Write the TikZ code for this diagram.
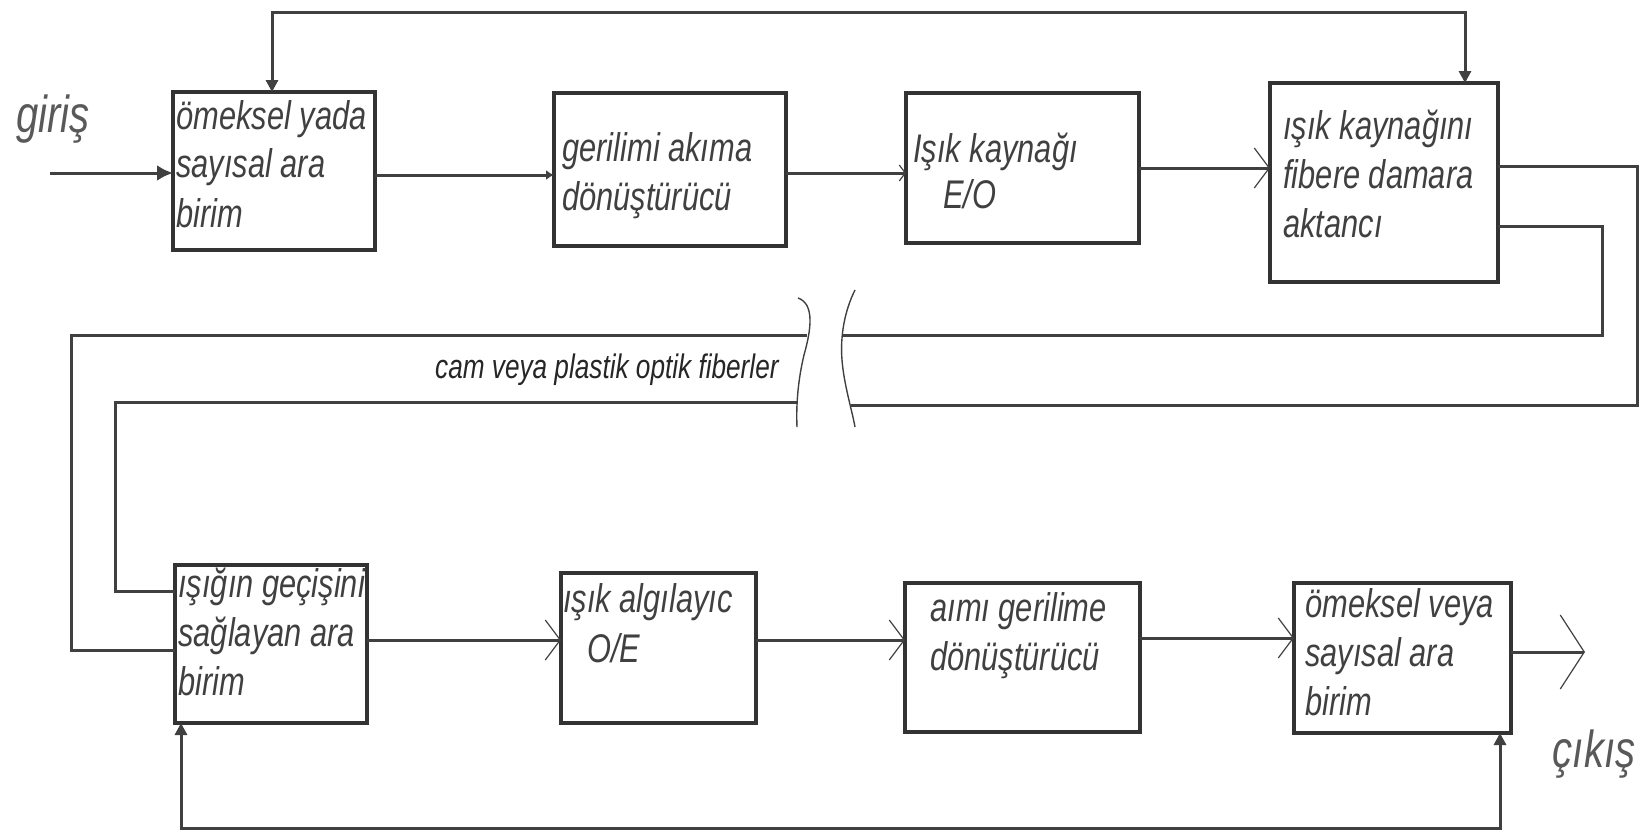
\documentclass[tikz,border=0pt]{standalone}
\usepackage{fontspec}
\newfontfamily\labfont{Liberation Sans}[FakeStretch=0.77]
\usetikzlibrary{arrows.meta}
\tikzset{
  blk/.style={draw=black!80, line width=1.6pt, rectangle, inner sep=0pt, outer sep=0pt, fill=white},
  txt/.style={anchor=base west, inner sep=0pt, align=left, text=black!75,
    font=\labfont\itshape\fontsize{20}{24.5}\selectfont},
  big/.style={inner sep=0pt, text=black!65, font=\labfont\itshape\fontsize{26}{30}\selectfont},
  small/.style={inner sep=0pt, text=black!85, font=\labfont\itshape\fontsize{17}{20}\selectfont},
  wire/.style={draw=black!75, line width=1.5pt},
  chev/.style={-{Straight Barb[length=7.5pt,width=20pt,line width=0.6pt]}},
  tick/.style={-{Straight Barb[length=3pt,width=8pt,line width=0.6pt]}},
  fb/.style={{Triangle[length=6pt,width=6pt]}-{Triangle[length=6pt,width=6pt]}},
  brk/.style={draw=black!75, line width=0.7pt}
}
\begin{document}
\begin{tikzpicture}[x=0.5pt,y=-0.5pt]
\useasboundingbox (0,0) rectangle (1646,835);
% boxes
\node[blk, minimum width=101pt, minimum height=79pt] (b1) at (274,171) {};
\node[blk, minimum width=116pt, minimum height=76.5pt] (b2) at (670,169.5) {};
\node[blk, minimum width=116.5pt, minimum height=75pt] (b3) at (1022.5,168) {};
\node[blk, minimum width=114pt, minimum height=99.5pt] (b4) at (1384,182.5) {};
\node[blk, minimum width=96pt, minimum height=79pt] (b5) at (271,644) {};
\node[blk, minimum width=97.5pt, minimum height=75pt] (b6) at (658.5,648) {};
\node[blk, minimum width=117.5pt, minimum height=74.5pt] (b7) at (1022.5,657.5) {};
\node[blk, minimum width=108.5pt, minimum height=75pt] (b8) at (1402.5,658) {};
% texts (anchor = baseline of the last line)
\node[txt] (t1) at (176,227) {ömeksel yada\\sayısal ara\\birim};
\node[txt] (t2) at (562,210) {gerilimi akıma\\dönüştürücü};
\node[txt] (t3) at (913,162) {Işık kaynağı};
\node[txt] (t3b) at (943,208) {E/O};
\node[txt] (t4) at (1283,237) {ışık kaynağını\\fibere damara\\aktancı};
\node[txt] (t5) at (178,695) {ışığın geçişini\\sağlayan ara\\birim};
\node[txt] (t6) at (563,612) {ışık algılayıc};
\node[txt] (t6b) at (587,662) {O/E};
\node[txt] (t7) at (930,670) {aımı gerilime\\dönüştürücü};
\node[txt] (t8) at (1305,715) {ömeksel veya\\sayısal ara\\birim};
\node[big, anchor=base] (gir) at (53,132) {giriş};
\node[big, anchor=base] (cik) at (1594,767) {çıkış};
\node[small, anchor=base east] (fib) at (779,378) {cam veya plastik optik fiberler};
% coordinates
\coordinate (inp) at (50,173);
\coordinate (outp) at (1585,652);
\coordinate (bl1) at (807,335);
\coordinate (bl2) at (797,402);
\coordinate (br1) at (842,335);
\coordinate (br2) at (851,405);
% top row connectors
\draw[wire, -{Latex[length=8pt,width=8pt]}] (inp) -- (b1.west |- inp);
\draw[wire, -{Latex[length=4pt,width=5pt]}] (b1.east |- 0,175) -- (b2.west |- 0,175);
\draw[wire, tick] (b2.east |- 0,173) -- (b3.west |- 0,173);
\draw[wire, chev] (b3.east |- 0,168) -- (b4.west |- 0,168);
\draw[wire, fb] (272,0 |- b1.north) -- (272,12) -- (1465,12) -- (1465,0 |- b4.north);
% fibres
\draw[wire] (b4.east |- 0,166) -- (1637,166) -- (1637,405) -- (br2);
\draw[wire] (b4.east |- 0,226) -- (1602,226) -- (1602,335) -- (br1);
\draw[wire] (b5.west |- 0,650) -- (71,650) -- (71,335) -- (bl1);
\draw[wire] (b5.west |- 0,591) -- (115,591) -- (115,402) -- (bl2);
% break marks
\draw[brk] (798,298) .. controls (815,304) and (811,330) .. (804,355) .. controls (798,380) and (796,405) .. (797,427);
\draw[brk] (855,290) .. controls (845,310) and (840,335) .. (842,360) .. controls (844,385) and (852,410) .. (855,427);
% bottom row connectors
\draw[wire, chev] (b5.east |- 0,640) -- (b6.west |- 0,640);
\draw[wire, chev] (b6.east |- 0,640) -- (b7.west |- 0,640);
\draw[wire, chev] (b7.east |- 0,638) -- (b8.west |- 0,638);
\draw[wire, -{Straight Barb[length=12pt,width=37pt,line width=0.6pt]}] (b8.east |- outp) -- (outp);
\draw[wire, fb] (1500,0 |- b8.south) -- (1500,828) -- (181,828) -- (181,0 |- b5.south);
\end{tikzpicture}
\end{document}
